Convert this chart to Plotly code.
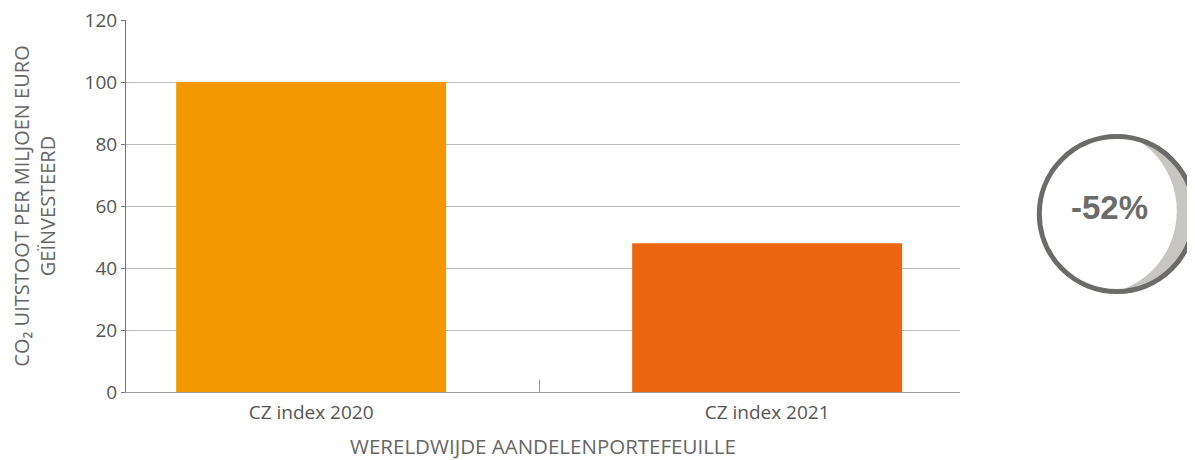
import plotly.graph_objects as go

# Data
categorieen = ["CZ index 2020", "CZ index 2021"]
uitstoot = [100, 48]
kleuren = ["#f39800", "#ec6510"]
reductie_label = "-52%"

fig = go.Figure()

fig.add_trace(go.Bar(x=categorieen, y=uitstoot, marker=dict(color=kleuren, line=dict(width=0)),
                     width=0.592, showlegend=False, hoverinfo="x+y"))

font_fam = "Open Sans, Noto Sans, sans-serif"

# de pagina heeft 8px body-marge, dus figuur iets kleiner
fig.update_layout(
    width=1187, height=452,
    margin=dict(l=118, r=235, t=12, b=68),
    plot_bgcolor="white", paper_bgcolor="white",
    font=dict(family=font_fam, color="#555555"),
)

fig.update_yaxes(
    range=[0, 120], dtick=20, tickfont=dict(size=19, color="#555555"),
    showgrid=True, gridcolor="#bcbcbc", gridwidth=1,
    showline=True, linecolor="#777777", linewidth=1,
    ticks="outside", ticklen=4, tickcolor="#777777",
    zeroline=False, automargin=False, ticklabeloverflow="allow",
    title=dict(text="CO₂ UITSTOOT PER MILJOEN EURO<br>GEÏNVESTEERD",
               font=dict(size=20, color="#666666"), standoff=38),
)

fig.update_xaxes(
    range=[-0.406, 1.423],
    tickfont=dict(size=19, color="#555555"), automargin=False, ticklabelstandoff=3,
    showline=True, linecolor="#999999", linewidth=1,
    ticks="inside", tickson="boundaries", ticklen=12, tickcolor="#999999",
    title=dict(text="WERELDWIJDE AANDELENPORTEFEUILLE",
               font=dict(size=20.5, color="#666666"), standoff=25),
)

# Cirkel met -52%
cx, cy = 1.188, 0.4785
fig.add_shape(type="circle", xref="paper", yref="paper", xsizemode="pixel", ysizemode="pixel",
              xanchor=cx, yanchor=cy, x0=-80, x1=80, y0=-80, y1=80,
              fillcolor="#c8c6c0", line=dict(width=0), layer="above")
fig.add_shape(type="circle", xref="paper", yref="paper", xsizemode="pixel", ysizemode="pixel",
              xanchor=cx, yanchor=cy, x0=-108, x1=60, y0=-81, y1=87,
              fillcolor="white", line=dict(width=0), layer="above")
fig.add_shape(type="circle", xref="paper", yref="paper", xsizemode="pixel", ysizemode="pixel",
              xanchor=cx, yanchor=cy, x0=-77.5, x1=77.5, y0=-77.5, y1=77.5,
              line=dict(color="#6b6b69", width=5), layer="above")
fig.add_annotation(x=cx, y=cy, xref="paper", yref="paper", xanchor="center", yanchor="middle",
                   xshift=-7, yshift=6,
                   text="<b>" + reductie_label + "</b>", showarrow=False,
                   font=dict(family="Liberation Sans, Arial, sans-serif",
                             size=33, color="#6b6b69"))

fig.write_html("out.html")
